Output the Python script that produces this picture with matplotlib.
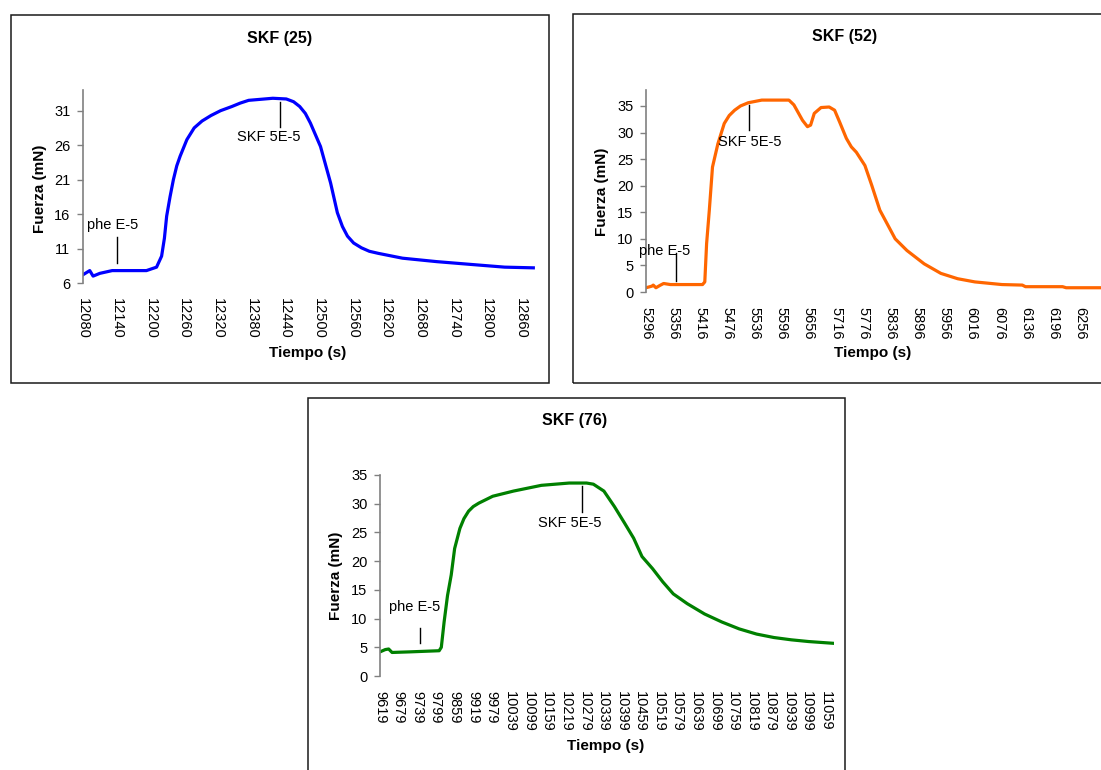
"""Three SKF force traces (Fuerza vs Tiempo) laid out like the original sheet."""
import matplotlib

matplotlib.use("Agg")
import matplotlib.pyplot as plt
import numpy as np
from matplotlib.patches import Rectangle

W, H = 1101, 770

# SKF (25)
t25 = [12080, 12092, 12098, 12110, 12132, 12193, 12211, 12220, 12225, 12229, 12235, 12241,
       12247, 12253, 12265, 12278, 12292, 12308, 12325, 12345, 12360, 12375, 12418, 12442,
       12455, 12466, 12476, 12485, 12503, 12521, 12533, 12542, 12551, 12562, 12576, 12590,
       12606, 12649, 12710, 12770, 12831, 12882]
f25 = [7.2, 7.8, 7.0, 7.4, 7.8, 7.8, 8.3, 9.9, 12.5, 15.7, 18.5, 21.0,
       23.0, 24.4, 26.8, 28.5, 29.5, 30.3, 31.0, 31.6, 32.1, 32.5, 32.8, 32.7,
       32.3, 31.6, 30.6, 29.2, 25.8, 20.5, 16.2, 14.2, 12.8, 11.8, 11.1, 10.6,
       10.3, 9.6, 9.1, 8.7, 8.3, 8.2]

# SKF (52)
t52 = [5296, 5309, 5312, 5318, 5327, 5335, 5350, 5421, 5426, 5430, 5436, 5443, 5455, 5469,
       5480, 5492, 5505, 5522, 5552, 5612, 5623, 5642, 5653, 5660, 5668, 5683, 5701, 5713,
       5724, 5739, 5750, 5761, 5780, 5795, 5813, 5825, 5847, 5873, 5911, 5948, 5985, 6023,
       6083, 6128, 6135, 6217, 6225, 6302]
f52 = [0.8, 1.1, 1.3, 0.8, 1.25, 1.6, 1.4, 1.4, 1.9, 9.1, 15.4, 23.5, 27.9, 31.7,
       33.2, 34.2, 35.0, 35.6, 36.1, 36.1, 35.2, 32.3, 31.1, 31.4, 33.6, 34.7, 34.8, 34.2,
       32.0, 28.9, 27.3, 26.3, 23.8, 20.1, 15.4, 13.5, 10.0, 7.8, 5.3, 3.5, 2.5, 1.9,
       1.4, 1.3, 1.0, 1.0, 0.8, 0.8]

# SKF (76)
t76 = [9619, 9636, 9647, 9658, 9714, 9810, 9817, 9826, 9837, 9849, 9860, 9877, 9890, 9905,
       9920, 9938, 9983, 10050, 10140, 10230, 10286, 10308, 10342, 10376, 10409, 10438,
       10465, 10499, 10532, 10566, 10611, 10667, 10723, 10779, 10835, 10891, 10947, 11003,
       11081]
f76 = [4.2, 4.6, 4.7, 4.1, 4.2, 4.4, 5.0, 9.4, 14.0, 17.6, 22.2, 25.7, 27.4, 28.7,
       29.5, 30.1, 31.3, 32.2, 33.2, 33.6, 33.6, 33.4, 32.2, 29.5, 26.6, 24.0,
       20.8, 18.7, 16.4, 14.3, 12.6, 10.8, 9.4, 8.2, 7.3, 6.7, 6.3, 6.0,
       5.7]

PANELS = [
    dict(t=t25, f=f25, color="#0000FF", title="SKF (25)",
         frame=(11, 15, 549, 383), axes=(83, 90, 535, 283),
         xlim=(12080, 12885), ylim=(6, 34), xticks=(12080, 12860), yticks=(6, 31),
         title_xy=(280, 38), ylabel_xy=(40, 189), xlabel_xy=(308, 353),
         phe=dict(line=(12140, 8.9, 12.7), text=(12132, 14.4)),
         skf=dict(line=(12430, 32.2, 28.7), text=(12411, 27.2))),
    dict(t=t52, f=f52, color="#FF6600", title="SKF (52)",
         frame=(573, 14, 1115, 383), axes=(646, 90, 1101, 292),
         xlim=(5296, 6302), ylim=(0, 38), xticks=(5296, 6256), yticks=(0, 35),
         title_xy=(845, 37), ylabel_xy=(602, 192), xlabel_xy=(873, 353),
         phe=dict(line=(5362, 2.1, 7.3), text=(5338, 7.7)),
         skf=dict(line=(5523, 35.2, 30.5), text=(5525, 28.3))),
    dict(t=t76, f=f76, color="#008000", title="SKF (76)",
         frame=(308, 398, 845, 790), axes=(380, 475, 834, 676),
         xlim=(9619, 11085), ylim=(0, 35), xticks=(9619, 11059), yticks=(0, 35),
         title_xy=(575, 421), ylabel_xy=(336, 576), xlabel_xy=(606, 746),
         phe=dict(line=(9748, 5.7, 8.4), text=(9730, 12.0)),
         skf=dict(line=(10271, 33.0, 28.6), text=(10232, 26.7))),
]


def fx(px):
    return px / W


def fy(py):
    return 1 - py / H


def draw_panel(fig, p):
    x0, y0, x1, y1 = p["frame"]
    fig.patches.append(Rectangle((fx(x0), fy(y1)), fx(x1 - x0), (y1 - y0) / H,
                                 transform=fig.transFigure, fill=False,
                                 edgecolor="#1a1a1a", linewidth=1.1))

    a0, b0, a1, b1 = p["axes"]
    ax = fig.add_axes([fx(a0), fy(b1), fx(a1 - a0), (b1 - b0) / H])
    ax.patch.set_alpha(0)
    ax.plot(p["t"], p["f"], color=p["color"], linewidth=2.3, solid_joinstyle="round")

    ax.set_xlim(*p["xlim"])
    ax.set_ylim(*p["ylim"])
    ax.set_xticks(np.arange(p["xticks"][0], p["xticks"][1] + 1, 60))
    ax.set_yticks(np.arange(p["yticks"][0], p["yticks"][1] + 1, 5))
    ax.tick_params(axis="x", length=0, pad=11, labelsize=10.5, labelrotation=-90)
    ax.tick_params(axis="y", length=4, width=1, color="#808080", direction="out",
                   pad=5, labelsize=10.5)
    for side in ("top", "right", "bottom"):
        ax.spines[side].set_visible(False)
    ax.spines["left"].set_color("#808080")
    ax.spines["left"].set_linewidth(1.2)

    lx, ly0, ly1 = p["phe"]["line"]
    ax.plot([lx, lx], [ly0, ly1], color="black", linewidth=1)
    ax.text(*p["phe"]["text"], "phe E-5", ha="center", va="center", fontsize=10.5)
    lx, ly0, ly1 = p["skf"]["line"]
    ax.plot([lx, lx], [ly0, ly1], color="black", linewidth=1)
    ax.text(*p["skf"]["text"], "SKF 5E-5", ha="center", va="center", fontsize=10.5)

    fig.text(fx(p["title_xy"][0]), fy(p["title_xy"][1]), p["title"],
             ha="center", va="center", fontsize=11.5, fontweight="bold")
    fig.text(fx(p["ylabel_xy"][0]), fy(p["ylabel_xy"][1]), "Fuerza (mN)",
             ha="center", va="center", rotation=90, fontsize=11, fontweight="bold")
    fig.text(fx(p["xlabel_xy"][0]), fy(p["xlabel_xy"][1]), "Tiempo (s)",
             ha="center", va="center", fontsize=11, fontweight="bold")


plt.rcParams.update({
    "font.family": ["Liberation Sans", "DejaVu Sans"],
    "text.color": "black",
    "xtick.color": "black",
    "ytick.color": "black",
})

fig = plt.figure(figsize=(W / 100, H / 100), dpi=100)
fig.patch.set_facecolor("white")
for panel in PANELS:
    draw_panel(fig, panel)

fig.savefig("out.png", dpi=100)
